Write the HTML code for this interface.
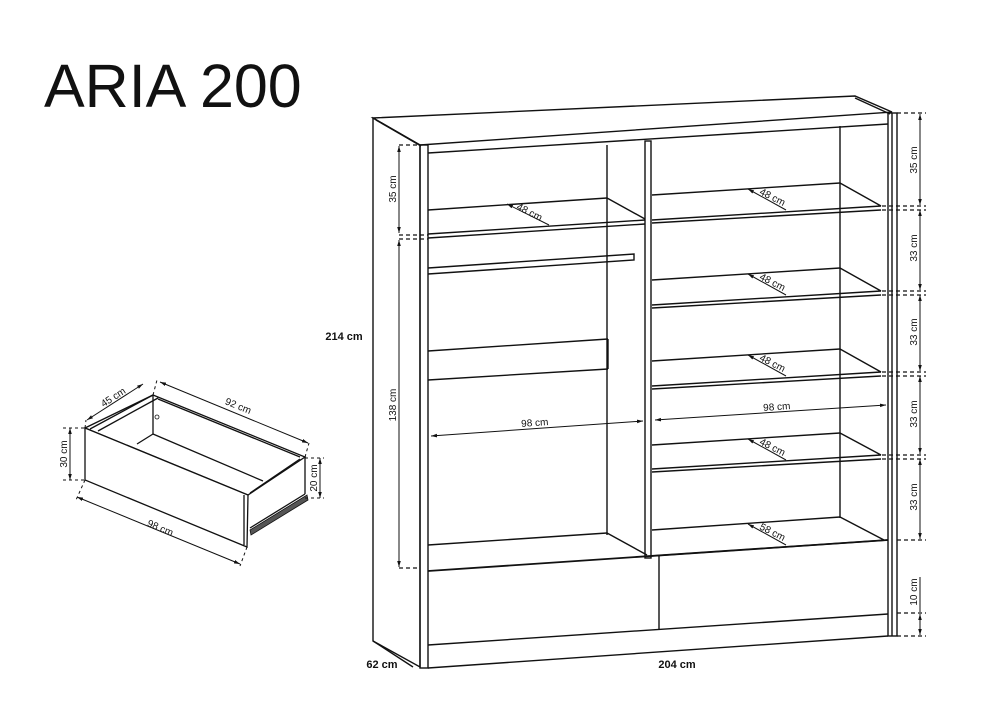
<!DOCTYPE html>
<html><head><meta charset="utf-8"><style>
html,body{margin:0;padding:0;background:#fff}
svg{display:block}
text{font-family:"Liberation Sans",Arial,sans-serif;fill:#111}
</style></head><body>
<svg width="1000" height="711" viewBox="0 0 1000 711" xmlns="http://www.w3.org/2000/svg">
<defs>
<marker id="a" viewBox="0 0 10 10" refX="10" refY="5" markerWidth="6" markerHeight="6" orient="auto-start-reverse"><path d="M0,2 L10,5 L0,8 z" fill="#111"/></marker>
</defs>
<text x="44" y="107" font-size="61">ARIA 200</text>

<g stroke="#111" fill="none" stroke-width="1.4">
<!-- top -->
<path d="M373,118 L855,96 L892,112 L420,145 Z" fill="#fff"/>
<line x1="376" y1="120" x2="421" y2="146"/>
<line x1="428" y1="153" x2="888" y2="124"/>
<line x1="855" y1="98" x2="890" y2="114"/>
<!-- left side -->
<path d="M373,118 L420,145 L420,667 L373,641 Z"/>
<line x1="373" y1="641" x2="413" y2="667"/>
<rect x="420" y="145" width="8" height="523"/>
<!-- right side -->
<rect x="888" y="113" width="9" height="523"/>
<line x1="892" y1="113" x2="892" y2="636"/>
<!-- top panel inner -->
<line x1="428" y1="153" x2="428" y2="153"/>
<!-- central divider -->
<rect x="645" y="141" width="6" height="417"/>
<!-- left compartment back vertical -->
<line x1="607" y1="145" x2="607" y2="535"/>
<!-- right compartment back vertical -->
<line x1="840" y1="126" x2="840" y2="518"/>
<!-- left shelf -->
<line x1="428" y1="210" x2="607" y2="198"/>
<line x1="607" y1="198" x2="645" y2="219"/>
<line x1="428" y1="234" x2="645" y2="220"/>
<line x1="428" y1="238" x2="645" y2="224"/>
<!-- rail -->
<path d="M428,268 L634,254 L634,260 L428,274"/>
<!-- left drawer front piece -->
<line x1="428" y1="351" x2="608" y2="339"/>
<line x1="608" y1="339" x2="608" y2="369"/>
<line x1="428" y1="380" x2="608" y2="369"/>
<!-- left bottom -->
<line x1="428" y1="545" x2="607" y2="533"/>
<line x1="607" y1="533" x2="647" y2="555"/>
<!-- right shelves -->
<g>
<line x1="652" y1="195" x2="840" y2="183"/><line x1="840" y1="183" x2="881" y2="206"/>
<line x1="652" y1="220" x2="881" y2="206"/><line x1="652" y1="223" x2="881" y2="210"/>
<line x1="652" y1="280" x2="840" y2="268"/><line x1="840" y1="268" x2="881" y2="291"/>
<line x1="652" y1="305" x2="881" y2="291"/><line x1="652" y1="308" x2="881" y2="295"/>
<line x1="652" y1="361" x2="840" y2="349"/><line x1="840" y1="349" x2="881" y2="372"/>
<line x1="652" y1="386" x2="881" y2="372"/><line x1="652" y1="389" x2="881" y2="376"/>
<line x1="652" y1="445" x2="840" y2="433"/><line x1="840" y1="433" x2="881" y2="455"/>
<line x1="652" y1="469" x2="881" y2="455"/><line x1="652" y1="472" x2="881" y2="459"/>
<line x1="652" y1="530" x2="840" y2="517"/><line x1="840" y1="517" x2="884" y2="540"/>
</g>
<!-- base / drawers -->
<line x1="428" y1="571" x2="888" y2="540" stroke-width="1.8"/>
<line x1="651" y1="556" x2="888" y2="540"/>
<line x1="659" y1="556" x2="659" y2="629"/>
<line x1="428" y1="645" x2="888" y2="614"/>
<line x1="428" y1="668" x2="888" y2="636"/>
</g>

<!-- dimension arrows -->
<g stroke="#111" stroke-width="1" fill="none">
<line x1="431" y1="436" x2="643" y2="421" marker-start="url(#a)" marker-end="url(#a)"/>
<line x1="655" y1="420" x2="886" y2="405" marker-start="url(#a)" marker-end="url(#a)"/>
<line x1="507" y1="204" x2="549" y2="225" marker-start="url(#a)"/>
<line x1="748" y1="189" x2="786" y2="210" marker-start="url(#a)"/>
<line x1="748" y1="274" x2="786" y2="295" marker-start="url(#a)"/>
<line x1="748" y1="355" x2="786" y2="376" marker-start="url(#a)"/>
<line x1="748" y1="439" x2="786" y2="460" marker-start="url(#a)"/>
<line x1="748" y1="524" x2="786" y2="545" marker-start="url(#a)"/>
<!-- left vertical dims -->
<line x1="399" y1="146" x2="399" y2="233" marker-start="url(#a)" marker-end="url(#a)"/>
<line x1="399" y1="240" x2="399" y2="567" marker-start="url(#a)" marker-end="url(#a)"/>
<!-- right vertical dims -->
<line x1="920" y1="114" x2="920" y2="205" marker-start="url(#a)" marker-end="url(#a)"/>
<line x1="920" y1="210" x2="920" y2="290" marker-start="url(#a)" marker-end="url(#a)"/>
<line x1="920" y1="295" x2="920" y2="371" marker-start="url(#a)" marker-end="url(#a)"/>
<line x1="920" y1="376" x2="920" y2="454" marker-start="url(#a)" marker-end="url(#a)"/>
<line x1="920" y1="459" x2="920" y2="539" marker-start="url(#a)" marker-end="url(#a)"/>
<line x1="920" y1="577" x2="920" y2="612"/>
<line x1="920" y1="614" x2="920" y2="635" marker-start="url(#a)" marker-end="url(#a)"/>
</g>
<g stroke="#111" stroke-width="1.2" stroke-dasharray="4,3" fill="none">
<line x1="399" y1="145" x2="420" y2="145"/>
<line x1="399" y1="235" x2="428" y2="235"/>
<line x1="399" y1="239" x2="428" y2="239"/>
<line x1="399" y1="568" x2="420" y2="568"/>
<line x1="897" y1="113" x2="926" y2="113"/>
<line x1="882" y1="206" x2="926" y2="206"/><line x1="882" y1="210" x2="926" y2="210"/>
<line x1="882" y1="291" x2="926" y2="291"/><line x1="882" y1="295" x2="926" y2="295"/>
<line x1="882" y1="372" x2="926" y2="372"/><line x1="882" y1="376" x2="926" y2="376"/>
<line x1="882" y1="455" x2="926" y2="455"/><line x1="882" y1="459" x2="926" y2="459"/>
<line x1="897" y1="540" x2="926" y2="540"/>
<line x1="897" y1="613" x2="926" y2="613"/>
<line x1="897" y1="636" x2="926" y2="636"/>
</g>

<g font-size="10">
<text x="535" y="426" text-anchor="middle" transform="rotate(-4 535 426)">98 cm</text>
<text x="777" y="410" text-anchor="middle" transform="rotate(-4 777 410)">98 cm</text>
<text x="528" y="215" text-anchor="middle" transform="rotate(27 528 215)">48 cm</text>
<text x="771" y="200" text-anchor="middle" transform="rotate(27 771 200)">48 cm</text>
<text x="771" y="285" text-anchor="middle" transform="rotate(27 771 285)">48 cm</text>
<text x="771" y="366" text-anchor="middle" transform="rotate(27 771 366)">48 cm</text>
<text x="771" y="450" text-anchor="middle" transform="rotate(27 771 450)">48 cm</text>
<text x="771" y="535" text-anchor="middle" transform="rotate(27 771 535)">58 cm</text>
<text x="396" y="189" text-anchor="middle" transform="rotate(-90 396 189)">35 cm</text>
<text x="396" y="405" text-anchor="middle" transform="rotate(-90 396 405)">138 cm</text>
<text x="917" y="160" text-anchor="middle" transform="rotate(-90 917 160)">35 cm</text>
<text x="917" y="248" text-anchor="middle" transform="rotate(-90 917 248)">33 cm</text>
<text x="917" y="332" text-anchor="middle" transform="rotate(-90 917 332)">33 cm</text>
<text x="917" y="414" text-anchor="middle" transform="rotate(-90 917 414)">33 cm</text>
<text x="917" y="497" text-anchor="middle" transform="rotate(-90 917 497)">33 cm</text>
<text x="917" y="592" text-anchor="middle" transform="rotate(-90 917 592)">10 cm</text>
</g>
<g font-size="11" font-weight="bold">
<text x="344" y="340" text-anchor="middle">214 cm</text>
<text x="382" y="668" text-anchor="middle">62 cm</text>
<text x="677" y="668" text-anchor="middle">204 cm</text>
</g>

<!-- drawer -->
<g stroke="#111" fill="none" stroke-width="1.3">
<path d="M153,395 L305,457 L248,495 L85,428 Z"/>
<line x1="158" y1="399" x2="300" y2="457"/>
<line x1="153" y1="395" x2="90" y2="429"/>
<line x1="158" y1="398" x2="98" y2="431"/>
<line x1="300" y1="459" x2="250" y2="493"/>
<line x1="153" y1="395" x2="153" y2="434"/>
<line x1="153" y1="434" x2="137" y2="444"/>
<line x1="153" y1="434" x2="263" y2="481"/>
<path d="M85,428 L248,495 L247,547 L85,480 Z" fill="#fff"/>
<line x1="244" y1="495" x2="244" y2="545"/>
<line x1="305" y1="457" x2="305" y2="494"/>
<line x1="305" y1="494" x2="250" y2="528"/>
<path d="M250,530 L307,495 L308,500 L251,535 Z" fill="#555" stroke-width="0.8"/>
<circle cx="157" cy="417" r="2" stroke-width="0.8"/>
</g>
<g stroke="#111" stroke-width="1" fill="none">
<line x1="87" y1="420" x2="143" y2="384" marker-start="url(#a)" marker-end="url(#a)"/>
<line x1="160" y1="382" x2="308" y2="443" marker-start="url(#a)" marker-end="url(#a)"/>
<line x1="70" y1="428" x2="70" y2="480" marker-start="url(#a)" marker-end="url(#a)"/>
<line x1="320" y1="458" x2="320" y2="498" marker-start="url(#a)" marker-end="url(#a)"/>
<line x1="77" y1="497" x2="240" y2="564" marker-start="url(#a)" marker-end="url(#a)"/>
</g>
<g stroke="#111" stroke-width="1" stroke-dasharray="3,3" fill="none">
<line x1="63" y1="428" x2="85" y2="428"/><line x1="63" y1="480" x2="85" y2="480"/>
<line x1="305" y1="458" x2="324" y2="458"/><line x1="305" y1="498" x2="324" y2="498"/>
<line x1="85" y1="428" x2="86" y2="420"/><line x1="153" y1="395" x2="157" y2="380"/>
<line x1="305" y1="457" x2="309" y2="443"/><line x1="85" y1="480" x2="76" y2="500"/>
<line x1="247" y1="547" x2="240" y2="566"/>
</g>
<g font-size="10">
<text x="115" y="400" text-anchor="middle" transform="rotate(-33 115 400)">45 cm</text>
<text x="237" y="409" text-anchor="middle" transform="rotate(22 237 409)">92 cm</text>
<text x="67" y="454" text-anchor="middle" transform="rotate(-90 67 454)">30 cm</text>
<text x="317" y="478" text-anchor="middle" transform="rotate(-90 317 478)">20 cm</text>
<text x="159" y="531" text-anchor="middle" transform="rotate(23 159 531)">98 cm</text>
</g>
</svg>
</body></html>
